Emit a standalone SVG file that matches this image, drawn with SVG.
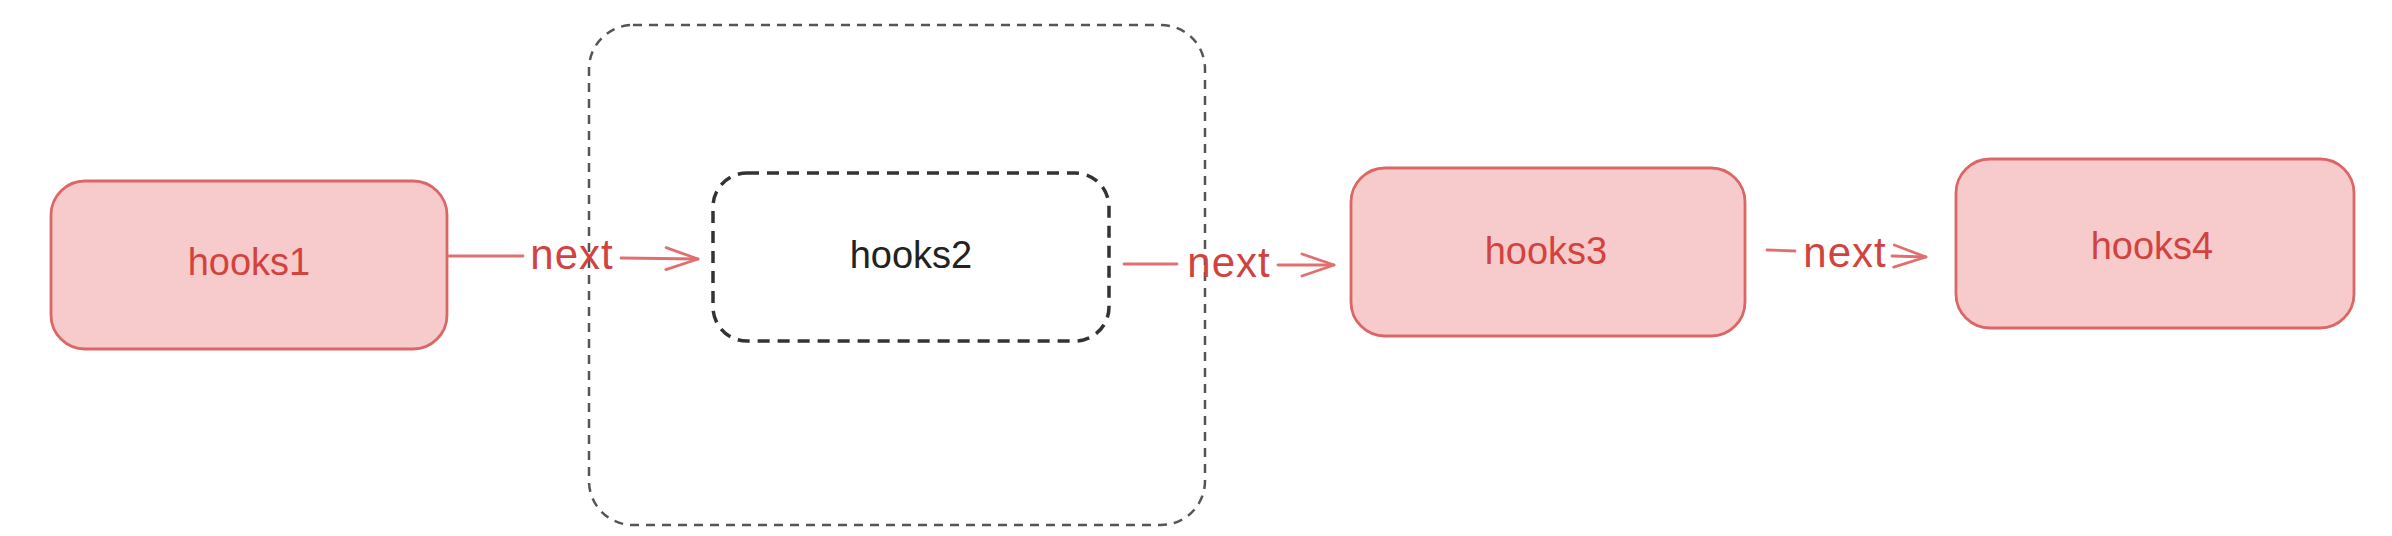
<svg xmlns="http://www.w3.org/2000/svg" width="2392" height="536" viewBox="0 0 2392 536">
  <defs>
    <marker id="chev" viewBox="0 0 36 28" refX="34" refY="14" markerWidth="36" markerHeight="28" markerUnits="userSpaceOnUse" orient="auto">
      <path d="M2,3 L34,14 L2,25" fill="none" stroke="#e07070" stroke-width="2.8" stroke-linecap="round" stroke-linejoin="round"/>
    </marker>
  </defs>
  <style>
    .red { fill: #f7cbcb; stroke: #dc6666; stroke-width: 2.8; }
    .lbl { font-family: "Liberation Sans", Arial, sans-serif; font-size: 38px; text-anchor: middle; }
    .rtxt { fill: #d2433f; }
    .ktxt { fill: #222; }
    .edge { stroke: #e07070; stroke-width: 2.8; fill: none; stroke-linecap: round; }
    .elbl { font-family: "Liberation Sans", Arial, sans-serif; font-size: 42px; fill: #d2433f; text-anchor: middle; letter-spacing: 1px; }
  </style>
  <rect width="2392" height="536" fill="#ffffff"/>

  <g id="container">
    <rect x="589" y="25" width="616" height="500" rx="44" ry="44" fill="none" stroke="#555" stroke-width="2.5" stroke-dasharray="9 7"/>
  </g>

  <g id="hooks1">
    <rect class="red" x="51" y="181" width="396" height="168" rx="34" ry="34"/>
    <text class="lbl rtxt" x="249" y="275">hooks1</text>
  </g>

  <g id="hooks2">
    <rect x="713" y="173" width="396" height="168" rx="34" ry="34" fill="#ffffff" stroke="#333" stroke-width="3.5" stroke-dasharray="12 8"/>
    <text class="lbl ktxt" x="911" y="268">hooks2</text>
  </g>

  <g id="hooks3">
    <rect class="red" x="1351" y="168" width="394" height="168" rx="34" ry="34"/>
    <text class="lbl rtxt" x="1546" y="264">hooks3</text>
  </g>

  <g id="hooks4">
    <rect class="red" x="1956" y="159" width="398" height="169" rx="34" ry="34"/>
    <text class="lbl rtxt" x="2152" y="259">hooks4</text>
  </g>

  <g id="connectors">
    <line class="edge" x1="449" y1="256" x2="523" y2="256"/>
    <line class="edge" x1="621" y1="258" x2="698" y2="259" marker-end="url(#chev)"/>
    <text class="elbl" x="572" y="269">next</text>

    <line class="edge" x1="1124" y1="264" x2="1177" y2="264"/>
    <line class="edge" x1="1278" y1="265" x2="1334" y2="265" marker-end="url(#chev)"/>
    <text class="elbl" x="1229" y="277">next</text>

    <line class="edge" x1="1767" y1="250" x2="1795" y2="251"/>
    <line class="edge" x1="1892" y1="256" x2="1926" y2="257" marker-end="url(#chev)"/>
    <text class="elbl" x="1845" y="267">next</text>
  </g>
</svg>
